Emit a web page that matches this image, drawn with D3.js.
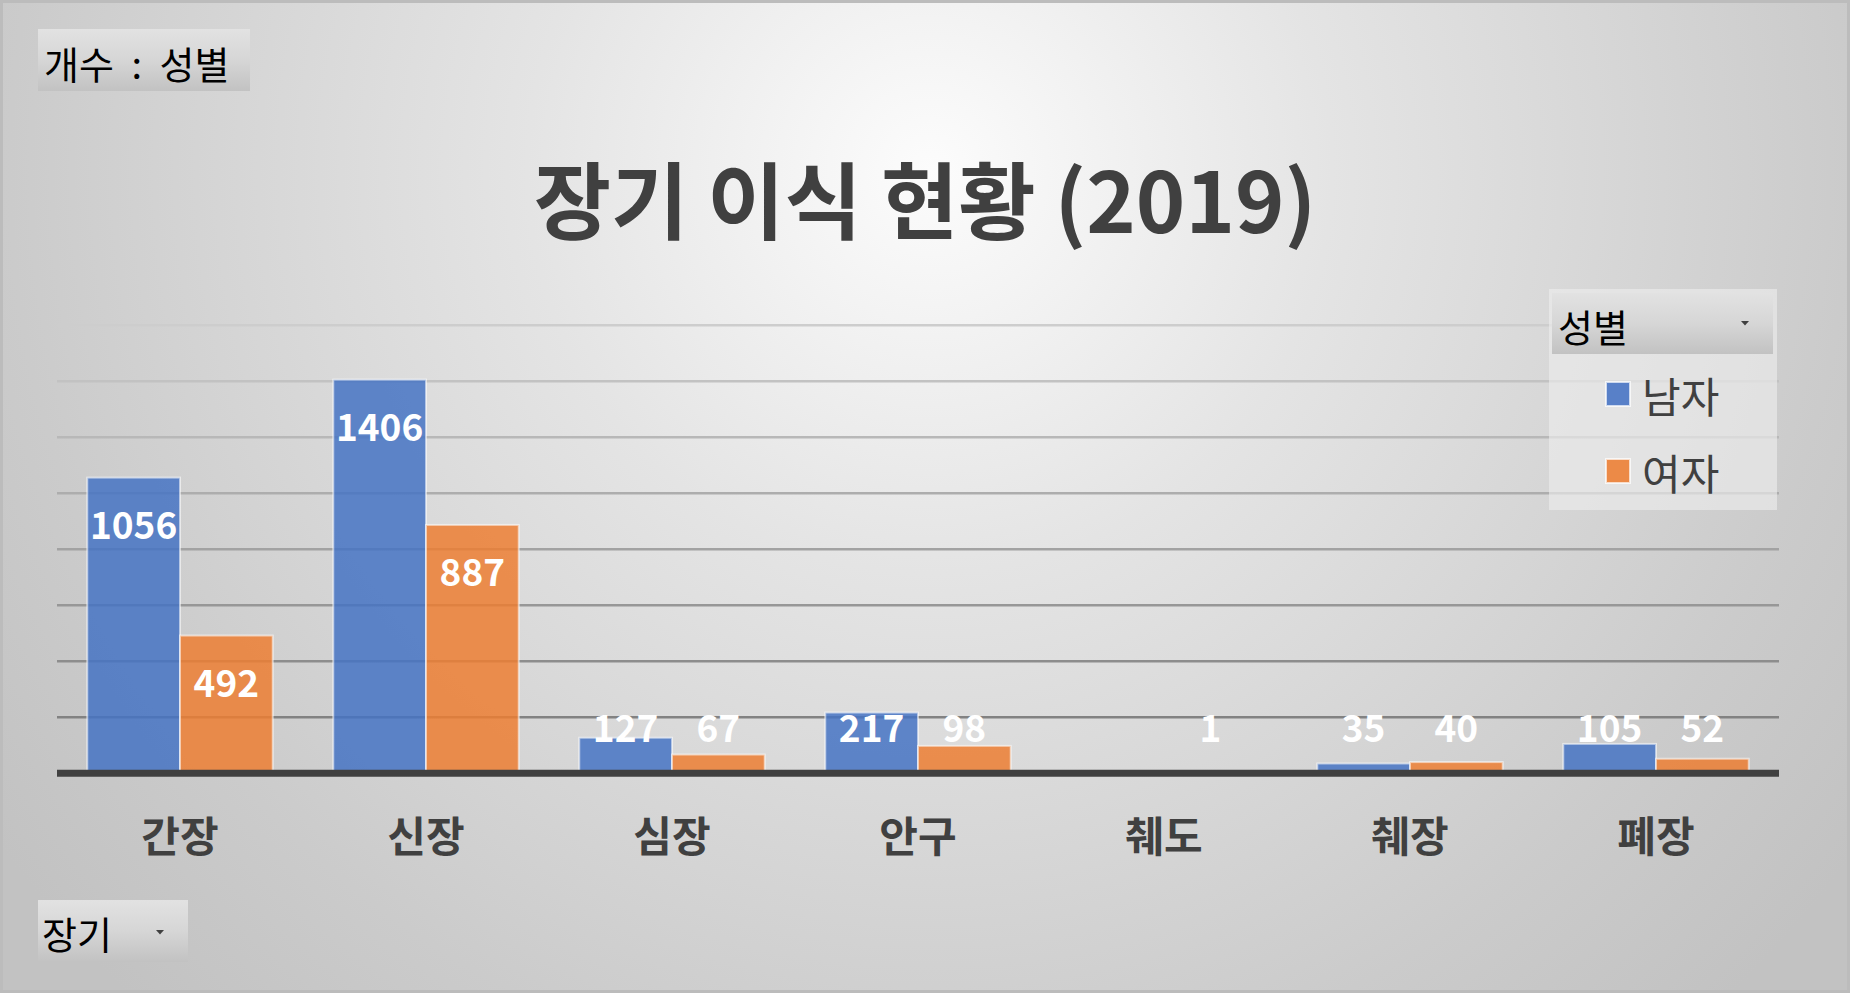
<!DOCTYPE html>
<html><head><meta charset="utf-8">
<script src="https://cdn.jsdelivr.net/npm/d3@7"></script>
<style>html,body{margin:0;padding:0;background:#fff;overflow:hidden}svg{display:block}</style>
</head><body>
<script>
// ---- data ----
const categories = ["간장", "신장", "심장", "안구", "췌도", "췌장", "폐장"];
const seriesNames = ["남자", "여자"];
const maleValues = [1056, 1406, 127, 217, null, 35, 105];
const femaleValues = [492, 887, 67, 98, 1, 40, 52];
const yTicks = [0, 200, 400, 600, 800, 1000, 1200, 1400, 1600];
const titleText = "장기 이식 현황 (2019)";
const filterLabel = "개수 : 성별";
const axisFieldLabel = "장기";
const legendFieldLabel = "성별";

const W = 1850, H = 993;
const KR = "'Noto Sans CJK KR','Noto Sans',sans-serif";
const colors = ["#4472C4", "#ED7D31"];

const svg = d3.select("body").append("svg").attr("width", W).attr("height", H);
const defs = svg.append("defs");

const bg = defs.append("radialGradient").attr("id", "bg")
  .attr("gradientUnits", "userSpaceOnUse").attr("cx", 930).attr("cy", 170).attr("r", 1150);
bg.append("stop").attr("offset", "0").attr("stop-color", "#fcfcfc");
bg.append("stop").attr("offset", "0.35").attr("stop-color", "#e4e4e4");
bg.append("stop").attr("offset", "0.8").attr("stop-color", "#cbcbcb");
bg.append("stop").attr("offset", "1").attr("stop-color", "#c2c2c2");

const btn = defs.append("linearGradient").attr("id", "btn").attr("x1", 0).attr("y1", 0).attr("x2", 0).attr("y2", 1);
btn.append("stop").attr("offset", "0").attr("stop-color", "#e2e2e2");
btn.append("stop").attr("offset", "0.5").attr("stop-color", "#d6d6d6");
btn.append("stop").attr("offset", "1").attr("stop-color", "#c2c2c2");

svg.append("rect").attr("x", 0).attr("y", 0).attr("width", W).attr("height", H).attr("fill", "url(#bg)");
svg.append("rect").attr("x", 1.5).attr("y", 1.5).attr("width", W - 3).attr("height", H - 3)
  .attr("fill", "none").attr("stroke", "#bcbcbc").attr("stroke-width", 3);

// ---- scales ----
const x0 = d3.scaleBand().domain(categories).range([57, 1779]).paddingInner(0.246).paddingOuter(0.123);
const x1 = d3.scaleBand().domain(seriesNames).range([0, x0.bandwidth()]);
const y = d3.scaleLinear().domain([0, 1600]).range([773.3, 325.3]);

// gridlines
const gridCol = d3.scaleLinear().domain([1600, 200]).range(["#cdcdcd", "#828282"]);
svg.append("g").selectAll("line").data(yTicks.filter(t => t > 0)).join("line")
  .attr("x1", 57).attr("x2", 1779)
  .attr("y1", d => y(d)).attr("y2", d => y(d))
  .attr("stroke", d => gridCol(d)).attr("stroke-width", 2.4);

// bars
const rows = categories.map((c, i) => ({cat: c, vals: [maleValues[i], femaleValues[i]]}));
const barG = svg.append("g").selectAll("g").data(rows).join("g")
  .attr("transform", d => `translate(${x0(d.cat)},0)`);
barG.selectAll("rect").data(d => d.vals.map((v, j) => ({v, s: seriesNames[j], j})).filter(e => e.v != null))
  .join("rect")
  .attr("x", e => x1(e.s)).attr("width", x1.bandwidth())
  .attr("y", e => y(e.v)).attr("height", e => y(0) - y(e.v))
  .attr("fill", e => colors[e.j]).attr("fill-opacity", 0.84)
  .attr("stroke", "rgba(255,255,255,0.55)").attr("stroke-width", 2);

// data labels
barG.selectAll("text").data(d => d.vals.map((v, j) => ({v, s: seriesNames[j], j})).filter(e => e.v != null))
  .join("text")
  .attr("x", e => x1(e.s) + x1.bandwidth() / 2)
  .attr("y", e => Math.min(y(e.v) + 45, y(0) - 47))
  .attr("text-anchor", "middle").attr("dominant-baseline", "central")
  .attr("font-family", KR).attr("font-weight", "bold").attr("font-size", 37)
  .attr("fill", "#ffffff")
  .text(e => e.v);

// axis baseline
svg.append("line").attr("x1", 57).attr("x2", 1779).attr("y1", y(0)).attr("y2", y(0))
  .attr("stroke", "#404040").attr("stroke-width", 7);

// x axis labels
const xAxis = d3.axisBottom(x0).tickSize(0).tickPadding(0);
const xg = svg.append("g").attr("transform", "translate(0,833)").call(xAxis);
xg.select(".domain").remove();
xg.selectAll("text").attr("font-family", KR).attr("font-weight", "bold").attr("font-size", 42)
  .attr("fill", "#404040").attr("dy", null).attr("y", 0).attr("dominant-baseline", "central");

// title
svg.append("text").attr("x", 925).attr("y", 233).attr("text-anchor", "middle")
  .attr("font-family", KR).attr("font-weight", "bold").attr("font-size", 84)
  .attr("fill", "#404040").text(titleText);

// filter button (top-left)
svg.append("rect").attr("x", 38).attr("y", 29).attr("width", 212).attr("height", 62).attr("fill", "url(#btn)");
svg.append("text").attr("x", 44).attr("y", 62).attr("dominant-baseline", "central")
  .attr("font-family", KR).attr("font-size", 38).attr("word-spacing", 9).attr("fill", "#000").text(filterLabel);

// axis field button (bottom-left)
svg.append("rect").attr("x", 38).attr("y", 900).attr("width", 150).attr("height", 62).attr("fill", "url(#btn)");
svg.append("text").attr("x", 42).attr("y", 932).attr("dominant-baseline", "central")
  .attr("font-family", KR).attr("font-size", 38).attr("fill", "#000").text(axisFieldLabel);
function arrow(cx, cy) {
  svg.append("path").attr("d", `M${cx - 4},${cy - 2}L${cx + 4},${cy - 2}L${cx},${cy + 2.5}Z`).attr("fill", "#404040");
}
arrow(160, 932);

// legend
svg.append("rect").attr("x", 1549).attr("y", 289).attr("width", 228).attr("height", 221)
  .attr("fill", "rgba(238,238,238,0.62)");
svg.append("rect").attr("x", 1552).attr("y", 293).attr("width", 221).attr("height", 61).attr("fill", "url(#btn)");
svg.append("text").attr("x", 1558).attr("y", 325).attr("dominant-baseline", "central")
  .attr("font-family", KR).attr("font-size", 38).attr("fill", "#000").text(legendFieldLabel);
arrow(1745, 323);
const leg = svg.append("g").selectAll("g").data(seriesNames).join("g")
  .attr("transform", (d, i) => `translate(0,${394 + i * 77})`);
leg.append("rect").attr("x", 1606).attr("y", -12).attr("width", 24).attr("height", 24)
  .attr("fill", (d, i) => colors[i]).attr("fill-opacity", 0.88)
  .attr("stroke", "rgba(255,255,255,0.7)").attr("stroke-width", 2);
leg.append("text").attr("x", 1642).attr("y", 0).attr("dominant-baseline", "central")
  .attr("font-family", KR).attr("font-size", 42).attr("fill", "#404040").text(d => d);
</script>
</body></html>
